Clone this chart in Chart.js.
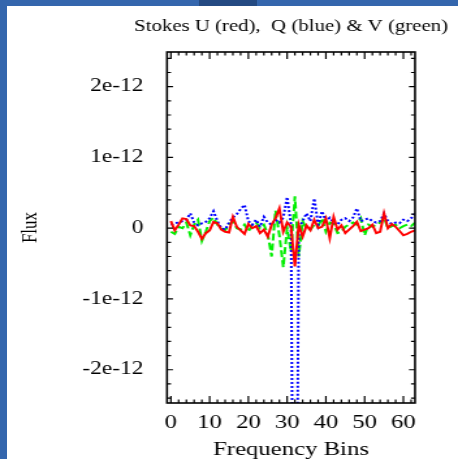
<!DOCTYPE html>
<html>
<head>
<meta charset="utf-8">
<script src="https://cdn.jsdelivr.net/npm/chart.js"></script>
<style>
  html, body { margin: 0; padding: 0; background: #fff; overflow: hidden; }
  #wrap { position: relative; width: 458px; height: 459px; overflow: hidden; }
  #stretchBox { position: absolute; left: 0; top: 0; width: 352px; height: 459px;
                transform: scaleX(1.30114); transform-origin: 0 0; }
  .edge { position: absolute; background: #3466ad; }
  #edgeLeft { left: 0; top: 0; width: 7px; height: 459px; }
  #edgeTop { left: 0; top: 0; width: 458px; height: 6px; }
  #edgeDark { left: 199px; top: 0; width: 58px; height: 6px; background: #244a82; }
</style>
</head>
<body>
<div id="wrap">
  <div id="stretchBox"><canvas id="chart" width="352" height="459"></canvas></div>
  <div class="edge" id="edgeLeft"></div>
  <div class="edge" id="edgeTop"></div>
  <div class="edge" id="edgeDark"></div>
</div>
<script>
// frequency bins (x) and the three Stokes series
const bins = [0,1,2,3,4,5,6,7,8,9,10,11,12,13,14,15,16,17,18,19,20,21,22,23,24,25,26,27,28,29,30,31,
              32,33,34,35,36,37,38,39,40,41,42,43,44,45,46,47,48,49,50,51,52,53,54,55,56,57,58,59,60,61,62,63];

const stokesU = [0.10e-12,-0.03e-12,0.05e-12,0.14e-12,0.13e-12,0.04e-12,0.03e-12,-0.05e-12,
                 -0.15e-12,-0.07e-12,-0.03e-12,0.09e-12,0.07e-12,-0.02e-12,-0.05e-12,-0.06e-12,
                 0.16e-12,0.02e-12,-0.03e-12,-0.08e-12,0.06e-12,0.00e-12,0.03e-12,-0.07e-12,
                 -0.02e-12,-0.12e-12,0.05e-12,0.14e-12,0.28e-12,-0.05e-12,0.08e-12,0.02e-12,
                 -0.54e-12,0.05e-12,-0.12e-12,0.04e-12,-0.03e-12,0.12e-12,0.00e-12,0.02e-12,
                 0.14e-12,-0.14e-12,0.16e-12,-0.02e-12,0.04e-12,-0.07e-12,-0.02e-12,0.03e-12,
                 0.09e-12,-0.04e-12,-0.02e-12,0.00e-12,0.05e-12,-0.07e-12,-0.05e-12,0.21e-12,
                 0.00e-12,0.06e-12,0.02e-12,-0.04e-12,-0.10e-12,-0.08e-12,-0.05e-12,-0.03e-12];

const stokesQ = [0.05e-12,0.07e-12,0.08e-12,0.10e-12,0.12e-12,0.21e-12,0.08e-12,0.04e-12,
                 0.07e-12,0.09e-12,0.14e-12,0.24e-12,0.10e-12,0.00e-12,-0.02e-12,0.08e-12,
                 0.15e-12,0.20e-12,0.27e-12,0.33e-12,0.10e-12,0.05e-12,0.12e-12,0.02e-12,
                 0.16e-12,0.08e-12,0.05e-12,0.12e-12,0.08e-12,0.15e-12,0.44e-12,0.05e-12,
                 -8.8e-12,0.00e-12,0.10e-12,0.21e-12,0.10e-12,0.42e-12,0.05e-12,0.24e-12,
                 0.10e-12,0.15e-12,0.08e-12,0.05e-12,0.12e-12,0.14e-12,0.10e-12,0.15e-12,
                 0.28e-12,0.10e-12,0.12e-12,0.14e-12,0.10e-12,0.08e-12,0.10e-12,0.21e-12,
                 0.10e-12,0.06e-12,0.08e-12,0.07e-12,0.12e-12,0.10e-12,0.14e-12,0.21e-12];

const stokesV = [-0.05e-12,-0.08e-12,0.02e-12,0.00e-12,0.08e-12,-0.10e-12,0.05e-12,0.12e-12,
                 -0.18e-12,-0.05e-12,0.10e-12,0.15e-12,0.05e-12,0.00e-12,-0.03e-12,0.05e-12,
                 0.10e-12,0.00e-12,-0.02e-12,0.05e-12,-0.05e-12,0.05e-12,0.08e-12,0.00e-12,
                 0.05e-12,-0.08e-12,-0.40e-12,0.25e-12,-0.10e-12,-0.55e-12,0.00e-12,-0.33e-12,
                 0.45e-12,-0.40e-12,0.10e-12,0.00e-12,-0.02e-12,0.05e-12,0.03e-12,0.14e-12,
                 -0.05e-12,0.08e-12,0.06e-12,-0.07e-12,-0.05e-12,0.02e-12,0.05e-12,0.08e-12,
                 0.05e-12,0.14e-12,-0.10e-12,0.05e-12,0.02e-12,0.05e-12,0.08e-12,0.15e-12,
                 0.00e-12,0.03e-12,0.05e-12,0.00e-12,0.03e-12,0.05e-12,0.03e-12,0.08e-12];

// axis labels
const xTickValues = [0, 10, 20, 30, 40, 50, 60];
const yTickValues = [-2e-12, -1e-12, 0, 1e-12, 2e-12];
const yTickText = ['-2e-12', '-1e-12', '0', '1e-12', '2e-12'];

// canvas is drawn narrow and stretched sideways, like the original picture
const stretch = 458 / 352;
const serif = 'Liberation Serif';
const rightPad = 352 - 448 / stretch;          // title ends here
const rightGap = 448 / stretch - 415 / stretch; // empty band right of the frame

function toPoints(values) {
  return bins.map((b, i) => ({ x: b, y: values[i] }));
}

// gnuplot style frame with inward ticks on all four sides
const frameTicks = {
  id: 'frameTicks',
  afterDraw(chart) {
    const { ctx, chartArea: a, scales: { x, y } } = chart;
    ctx.save();
    ctx.strokeStyle = '#000';
    ctx.lineWidth = 1.6;
    ctx.strokeRect(a.left, a.top, a.right - a.left, a.bottom - a.top);
    ctx.lineWidth = 1.2;
    ctx.beginPath();
    for (let v = 0; v <= 62; v += 2) {
      const px = x.getPixelForValue(v);
      const len = v % 10 === 0 ? 7 : 3.5;
      ctx.moveTo(px, a.bottom); ctx.lineTo(px, a.bottom - len);
      ctx.moveTo(px, a.top); ctx.lineTo(px, a.top + len);
    }
    for (let k = -12; k <= 12; k++) {
      const py = y.getPixelForValue(k * 0.2e-12);
      const len = (k % 5 === 0 ? 6 : 4) / stretch;
      ctx.moveTo(a.left, py); ctx.lineTo(a.left + len, py);
      ctx.moveTo(a.right, py); ctx.lineTo(a.right - len, py);
    }
    ctx.stroke();
    ctx.restore();
  }
};

new Chart(document.getElementById('chart'), {
  type: 'line',
  data: {
    datasets: [
      {
        label: 'U',
        data: toPoints(stokesU),
        borderColor: '#ff0000',
        borderWidth: 2,
        pointRadius: 0,
        tension: 0
      },
      {
        label: 'Q',
        data: toPoints(stokesQ),
        borderColor: '#0000ff',
        borderWidth: 2,
        borderDash: [2, 2],
        pointRadius: 0,
        tension: 0
      },
      {
        label: 'V',
        data: toPoints(stokesV),
        borderColor: '#00ee00',
        borderWidth: 2,
        borderDash: [7, 3],
        pointRadius: 0,
        tension: 0
      }
    ]
  },
  options: {
    responsive: false,
    animation: false,
    devicePixelRatio: 1,
    layout: { padding: { left: 0, right: rightPad, top: 0, bottom: 0 } },
    plugins: {
      legend: { display: false },
      tooltip: { enabled: false },
      title: {
        display: true,
        align: 'end',
        text: 'Stokes U (red),  Q (blue) & V (green)',
        color: '#000',
        font: { family: serif, size: 16, weight: 'normal' },
        padding: { top: 17.4, bottom: 15.4 }
      }
    },
    scales: {
      x: {
        type: 'linear',
        min: -1,
        max: 63,
        grid: { display: false },
        border: { display: false },
        afterBuildTicks: s => { s.ticks = xTickValues.map(v => ({ value: v })); },
        afterFit: s => { s.height = 459 - 403; },
        ticks: {
          color: '#000',
          padding: 1,
          maxRotation: 0,
          font: { family: serif, size: 19 }
        },
        title: {
          display: true,
          text: 'Frequency Bins',
          color: '#000',
          font: { family: serif, size: 19 },
          padding: { top: 0, bottom: -2 }
        }
      },
      y: {
        min: -2.47e-12,
        max: 2.49e-12,
        grid: { display: false },
        border: { display: false },
        afterBuildTicks: s => { s.ticks = yTickValues.map(v => ({ value: v })); },
        afterFit: s => { s.width = 167 / stretch; },
        ticks: {
          color: '#000',
          padding: 10,
          font: { family: serif, size: 18 },
          callback: (v, i) => yTickText[i]
        },
        title: {
          display: true,
          text: 'Flux',
          color: '#000',
          font: { family: serif, size: 17 },
          padding: { top: 13, bottom: 0 }
        }
      },
      // empty band on the right so the title can run past the frame
      yRight: {
        position: 'right',
        min: -2.47e-12,
        max: 2.49e-12,
        grid: { display: false },
        border: { display: false },
        ticks: { display: false },
        afterFit: s => { s.width = rightGap; }
      }
    }
  },
  plugins: [frameTicks]
});
</script>
</body>
</html>
